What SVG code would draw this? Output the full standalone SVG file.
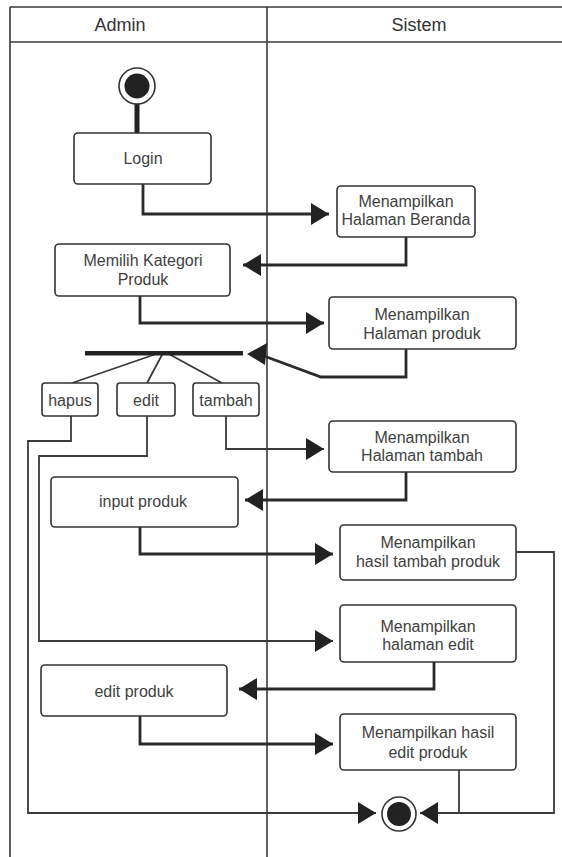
<svg xmlns="http://www.w3.org/2000/svg" width="562" height="857" viewBox="0 0 562 857">
  <style>
    .lane { fill: none; stroke: #3a3a3a; stroke-width: 1.6; }
    .box { fill: #ffffff; stroke: #333333; stroke-width: 1.6; }
    .lbl { font-family: "Liberation Sans", Arial, sans-serif; font-size: 16px; fill: #3f3f3f; text-anchor: middle; }
    .hdr { font-family: "Liberation Sans", Arial, sans-serif; font-size: 18px; fill: #333333; text-anchor: middle; }
    .flow { fill: none; stroke: #2a2a2a; stroke-width: 2.8; }
    .thin { fill: none; stroke: #3a3a3a; stroke-width: 1.8; }
  </style>
  <defs>
    <marker id="arrow" viewBox="0 0 18 22" refX="18" refY="11" markerWidth="18" markerHeight="22" markerUnits="userSpaceOnUse" orient="auto">
      <path d="M0,0 L18,11 L0,22 z" fill="#222222"/>
    </marker>
  </defs>

  <rect width="562" height="857" fill="#ffffff"/>

  <!-- swimlanes -->
  <g id="lanes">
    <line class="lane" x1="10" y1="7" x2="10" y2="857"/>
    <line class="lane" x1="10" y1="7" x2="562" y2="7"/>
    <line class="lane" x1="10" y1="42" x2="562" y2="42"/>
    <line class="lane" x1="267" y1="7" x2="267" y2="857"/>
    <text class="hdr" x="120" y="31">Admin</text>
    <text class="hdr" x="419" y="31">Sistem</text>
  </g>

  <!-- connectors -->
  <g id="connectors">
    <line x1="137" y1="104" x2="137" y2="133" stroke="#222222" stroke-width="5"/>
    <polyline class="flow" points="143,184 143,214 329,214" marker-end="url(#arrow)"/>
    <polyline class="flow" points="406,237 406,265 243,265" marker-end="url(#arrow)"/>
    <polyline class="flow" points="140,296 140,323 324,323" marker-end="url(#arrow)"/>
    <polyline class="flow" points="406,349 406,377 321,377 264,356"/>
    <path d="M247,354 L267,343 L265,365 z" fill="#222222"/>
    <line x1="159" y1="353" x2="72" y2="383" class="thin"/>
    <line x1="163" y1="353" x2="147" y2="383" class="thin"/>
    <line x1="167" y1="353" x2="222" y2="383" class="thin"/>
    <polyline class="thin" points="71,416 71,441 28,441 28,813 376,813" marker-end="url(#arrow)"/>
    <polyline class="thin" points="147,416 147,456 39,456 39,641 333,641" marker-end="url(#arrow)"/>
    <polyline class="thin" stroke-width="1.4" points="226,416 226,449 324,449" marker-end="url(#arrow)"/>
    <polyline class="flow" points="406,472 406,500 245,500" marker-end="url(#arrow)"/>
    <polyline class="flow" points="140,527 140,554 333,554" marker-end="url(#arrow)"/>
    <polyline class="thin" stroke-width="1.4" points="516,552 554,552 554,813 420,813" marker-end="url(#arrow)"/>
    <polyline class="flow" points="434,662 434,689 239,689" marker-end="url(#arrow)"/>
    <polyline class="flow" points="140,716 140,744 333,744" marker-end="url(#arrow)"/>
    <line class="thin" x1="459" y1="770" x2="459" y2="813"/>
  </g>

  <!-- start node -->
  <g id="start">
    <circle cx="137" cy="86" r="18" fill="#ffffff" stroke="#333333" stroke-width="1.6"/>
    <circle cx="137" cy="86" r="12.5" fill="#222222"/>
  </g>

  <g id="login">
    <rect class="box" x="74" y="133" width="137" height="51" rx="4"/>
    <text class="lbl" x="143" y="164">Login</text>
  </g>

  <g id="beranda">
    <rect class="box" x="337" y="186" width="138" height="51" rx="4"/>
    <text class="lbl" x="406" y="207" font-size="14">Menampilkan</text>
    <text class="lbl" x="406" y="225" font-size="14">Halaman Beranda</text>
  </g>

  <g id="kategori">
    <rect class="box" x="55" y="244" width="175" height="52" rx="4"/>
    <text class="lbl" x="143" y="266" font-size="15.5">Memilih Kategori</text>
    <text class="lbl" x="143" y="285" font-size="15.5">Produk</text>
  </g>

  <g id="halaman-produk">
    <rect class="box" x="329" y="297" width="187" height="52" rx="4"/>
    <text class="lbl" x="422" y="320">Menampilkan</text>
    <text class="lbl" x="422" y="339">Halaman produk</text>
  </g>

  <!-- fork bar -->
  <g id="fork">
    <rect x="85" y="351" width="158" height="4.5" fill="#222222"/>
  </g>

  <g id="hapus">
    <rect class="box" x="42" y="383" width="56" height="33" rx="3"/>
    <text class="lbl" x="70" y="406">hapus</text>
  </g>

  <g id="edit">
    <rect class="box" x="117" y="383" width="58" height="33" rx="3"/>
    <text class="lbl" x="146" y="406">edit</text>
  </g>

  <g id="tambah">
    <rect class="box" x="193" y="383" width="66" height="33" rx="3"/>
    <text class="lbl" x="226" y="406">tambah</text>
  </g>

  <g id="halaman-tambah">
    <rect class="box" x="329" y="421" width="187" height="51" rx="4"/>
    <text class="lbl" x="422" y="443">Menampilkan</text>
    <text class="lbl" x="422" y="461">Halaman tambah</text>
  </g>

  <g id="input-produk">
    <rect class="box" x="51" y="477" width="187" height="50" rx="4"/>
    <text class="lbl" x="143" y="507">input produk</text>
  </g>

  <g id="hasil-tambah">
    <rect class="box" x="340" y="525" width="176" height="55" rx="4"/>
    <text class="lbl" x="428" y="548">Menampilkan</text>
    <text class="lbl" x="428" y="567">hasil tambah produk</text>
  </g>

  <g id="halaman-edit">
    <rect class="box" x="340" y="605" width="176" height="57" rx="4"/>
    <text class="lbl" x="428" y="632">Menampilkan</text>
    <text class="lbl" x="428" y="650">halaman edit</text>
  </g>

  <g id="edit-produk">
    <rect class="box" x="41" y="665" width="186" height="51" rx="4"/>
    <text class="lbl" x="134" y="697">edit produk</text>
  </g>

  <g id="hasil-edit">
    <rect class="box" x="340" y="714" width="176" height="56" rx="4"/>
    <text class="lbl" x="428" y="738">Menampilkan hasil</text>
    <text class="lbl" x="428" y="758">edit produk</text>
  </g>

  <!-- final node -->
  <g id="end">
    <circle cx="399" cy="814" r="17" fill="#ffffff" stroke="#333333" stroke-width="1.6"/>
    <circle cx="399" cy="814" r="12" fill="#222222"/>
  </g>
</svg>
